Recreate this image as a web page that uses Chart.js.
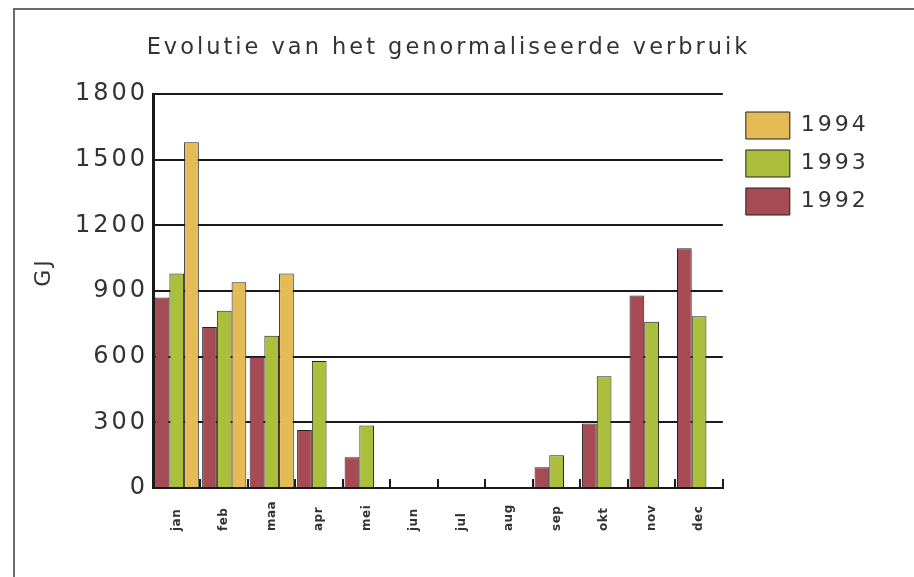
<!DOCTYPE html>
<html>
<head>
<meta charset="utf-8">
<script src="https://cdn.jsdelivr.net/npm/chart.js@4.4.1/dist/chart.umd.min.js"></script>
<style>
  html, body { margin: 0; padding: 0; background: #fff; }
  #wrap { position: relative; width: 914px; height: 577px; overflow: hidden; }
  #frame { position: absolute; left: 13px; top: 8px; width: 1000px; height: 700px;
           border-left: 2px solid #6a6a6a; border-top: 2px solid #6a6a6a; }
  canvas { position: absolute; left: 0; top: 0; }
</style>
</head>
<body>
<div id="wrap">
  <div id="frame"></div>
  <canvas id="c" width="914" height="577"></canvas>
</div>
<script>
const months = ['jan','feb','maa','apr','mei','jun','jul','aug','sep','okt','nov','dec'];
const years = ['1992','1993','1994'];
const v1992 = [870, 735, 600, 265, 140, null, null, null, 95, 295, 880, 1095];
const v1993 = [980, 810, 695, 580, 285, null, null, null, 150, 510, 760, 785];
const v1994 = [1580, 940, 980, null, null, null, null, null, null, null, null, null];
const yTicks = [0, 300, 600, 900, 1200, 1500, 1800];
const titleText = 'Evolutie van het genormaliseerde verbruik';
const yTitle = 'GJ';

const colors = ['#A64B53', '#ABBF3C', '#E5BB55'];
const ink = '#333333';
const FONT = "'DejaVu Sans', sans-serif";

const spacing = {
  id: 'spacing',
  beforeUpdate(chart) { chart.ctx.letterSpacing = '3px'; },
  beforeLayout(chart) { chart.ctx.letterSpacing = '3px'; },
  beforeDraw(chart) { chart.ctx.letterSpacing = '3px'; },
  afterLayout(chart) {
    const sx = chart.scales.x;
    if (sx && !sx.__wrapped) {
      sx.__wrapped = true;
      const gli = sx.getLabelItems.bind(sx);
      sx.getLabelItems = (ca) => {
        const items = gli(ca);
        items.forEach(it => {
          it.options.textAlign = 'left';
          it.options.translation = [it.options.translation[0], sx.top + 43];
        });
        return items;
      };
      const dl = sx.drawLabels.bind(sx);
      sx.drawLabels = (ca) => {
        const c = chart.ctx; c.save(); c.letterSpacing = '0.5px'; dl(ca); c.restore();
      };
    }
    const sy = chart.scales.y;
    if (sy && !sy.__wrapped) {
      sy.__wrapped = true;
      const dt = sy.drawTitle.bind(sy);
      sy.drawTitle = (ca) => {
        const c = chart.ctx; c.save(); c.translate(0, -19); dt(ca); c.restore();
      };
    }
  }
};

const ds = [v1992, v1993, v1994].map((d, i) => ({
  label: years[i],
  data: d,
  backgroundColor: colors[i],
  borderColor: '#222',
  borderWidth: 1,
  categoryPercentage: 0.93,
  barPercentage: 1.0
}));

new Chart(document.getElementById('c'), {
  type: 'bar',
  data: { labels: months, datasets: ds },
  plugins: [spacing],
  options: {
    responsive: false,
    animation: false,
    devicePixelRatio: 1,
    layout: { padding: { left: 19, right: 36, top: 20, bottom: 0 } },
    plugins: {
      title: {
        display: true, text: titleText, color: ink,
        font: { family: FONT, size: 22.5, weight: 'normal' },
        padding: { top: 15, bottom: 32 }
      },
      legend: {
        position: 'right', align: 'start', reverse: true, fullSize: false,
        title: { display: true, text: ' ', font: { size: 5, lineHeight: 1 }, padding: 1 },
        labels: {
          boxWidth: 44, boxHeight: 27, padding: 11, color: ink,
          font: { family: FONT, size: 22 }
        }
      },
      tooltip: { enabled: false }
    },
    scales: {
      x: {
        offset: true,
        grid: { display: true, offset: true, drawOnChartArea: false, drawTicks: true,
                tickLength: -9, color: '#1a1a1a', lineWidth: 2 },
        border: { display: true, color: '#1a1a1a', width: 2 },
        ticks: { color: ink, font: { family: FONT, size: 12, weight: 'bold' }, minRotation: 90, maxRotation: 90,
                 padding: 22, autoSkip: false },
        afterFit: s => { s.height = 89; }
      },
      y: {
        min: 0, max: 1800,
        afterBuildTicks: s => { s.ticks = yTicks.map(v => ({ value: v })); },
        grid: { color: '#1a1a1a', lineWidth: 2, drawTicks: false },
        border: { display: true, color: '#1a1a1a', width: 3 },
        ticks: { color: ink, font: { family: FONT, size: 24 }, padding: 5,
                 callback: v => String(v) },
        title: { display: true, text: yTitle, color: ink, font: { family: FONT, size: 22 },
                 padding: { top: 12, bottom: 0 } },
        afterFit: s => { s.width = 134; }
      },
      y2: {
        position: 'right', display: true,
        grid: { display: false }, border: { display: false },
        ticks: { display: false },
        afterFit: s => { s.width = 12; }
      }
    }
  }
});
</script>
</body>
</html>
